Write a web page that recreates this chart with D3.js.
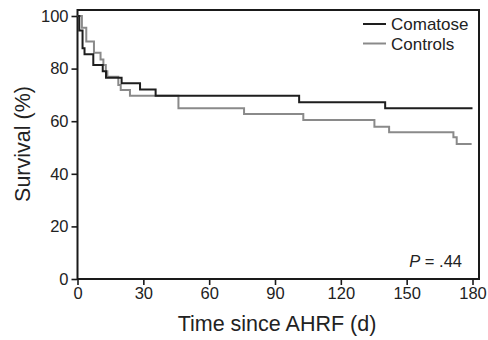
<!DOCTYPE html>
<html>
<head>
<meta charset="utf-8">
<script src="https://cdn.jsdelivr.net/npm/d3@7"></script>
<style>
  body { margin: 0; background: #fff; }
  svg { display: block; font-family: "Liberation Sans", Arial, sans-serif; }
</style>
</head>
<body>
<div class="result"></div>
<script>
const w = 488;
const h = 340;

// Kaplan-Meier steps: [day, survival %]
const comatoseDays = [0, 0.8, 2.3, 3.2, 7.2, 11.5, 13, 20.1, 28.5, 35.6, 101, 140.2, 180];
const comatoseSurv = [100, 94.5, 87.7, 85.5, 81.4, 79, 76.5, 74.4, 72.1, 69.7, 67.2, 64.9, 64.9];
const controlDays = [0, 2, 4, 7.5, 10.5, 11.8, 12.9, 13.6, 18.6, 19.7, 23.9, 46, 75.9, 102.9, 135.3, 142, 171.3, 172.8, 179.6];
const controlSurv = [100, 95.5, 90.3, 86, 83.5, 81.4, 79, 76.9, 73.8, 71.9, 69.7, 64.9, 62.7, 60.5, 57.9, 55.8, 53.9, 51.3, 51.3];
const xTicks = [0, 30, 60, 90, 120, 150, 180];
const yTicks = [0, 20, 40, 60, 80, 100];
const seriesNames = ['Comatose', 'Controls'];
const seriesColors = ['#1e1e1e', '#8a8a8a'];

const x = d3.scaleLinear().domain([0, 180]).range([77.5, 472.5]);
const y = d3.scaleLinear().domain([0, 100]).range([279, 16]);

const svg = d3.select('.result')
  .append('svg')
  .attr('width', w)
  .attr('height', h);

// Frame around plot area
svg.append('rect')
  .attr('x', x(0))
  .attr('y', 10)
  .attr('width', 479 - x(0))
  .attr('height', y(0) - 10)
  .attr('fill', 'none')
  .attr('stroke', '#1a1a1a')
  .attr('stroke-width', 2);

// Axes
const xAxis = svg.append('g')
  .attr('transform', 'translate(0,' + y(0) + ')')
  .call(d3.axisBottom(x).tickValues(xTicks).tickSize(6).tickSizeOuter(0).tickPadding(2));

const yAxis = svg.append('g')
  .attr('transform', 'translate(' + x(0) + ',0)')
  .call(d3.axisLeft(y).tickValues(yTicks).tickSize(6).tickSizeOuter(0).tickPadding(3));

[xAxis, yAxis].forEach(function (g) {
  g.select('.domain').remove();
  g.selectAll('.tick line').attr('stroke', '#1a1a1a').attr('stroke-width', 1.6);
  g.selectAll('.tick text')
    .attr('fill', '#222')
    .style('font-size', '16.5px')
    .style('font-family', '"Liberation Sans", Arial, sans-serif');
});

// Survival curves
const line = d3.line()
  .curve(d3.curveStepAfter)
  .x(function (d) { return x(d[0]); })
  .y(function (d) { return y(d[1]); });

const series = [
  d3.zip(comatoseDays, comatoseSurv),
  d3.zip(controlDays, controlSurv)
];

// draw controls first so black sits on top
[1, 0].forEach(function (i) {
  svg.append('path')
    .datum(series[i])
    .attr('fill', 'none')
    .attr('stroke', seriesColors[i])
    .attr('stroke-width', 2)
    .attr('d', line);
});

// Legend
const legend = svg.selectAll('g.legend')
  .data(seriesNames)
  .enter()
  .append('g')
  .attr('class', 'legend')
  .attr('transform', function (d, i) {
    return 'translate(0,' + (24 + i * 19.5) + ')';
  });

legend.append('line')
  .attr('x1', 363)
  .attr('x2', 386)
  .attr('stroke', function (d, i) { return seriesColors[i]; })
  .attr('stroke-width', 2);

legend.append('text')
  .attr('x', 391)
  .attr('y', 6)
  .attr('fill', '#222')
  .style('font-size', '17px')
  .text(function (d) { return d; });

// P value
const pText = svg.append('text')
  .attr('x', 462)
  .attr('y', 266.5)
  .attr('text-anchor', 'end')
  .attr('fill', '#222')
  .style('font-size', '16.5px');
pText.append('tspan').style('font-style', 'italic').text('P');
pText.append('tspan').text(' = .44');

// Axis titles
svg.append('text')
  .attr('x', 277)
  .attr('y', 331)
  .attr('text-anchor', 'middle')
  .attr('fill', '#222')
  .style('font-size', '21.5px')
  .text('Time since AHRF (d)');

svg.append('text')
  .attr('transform', 'translate(30,' + 144 + ') rotate(-90)')
  .attr('text-anchor', 'middle')
  .attr('fill', '#222')
  .style('font-size', '21.5px')
  .text('Survival (%)');
</script>
</body>
</html>
